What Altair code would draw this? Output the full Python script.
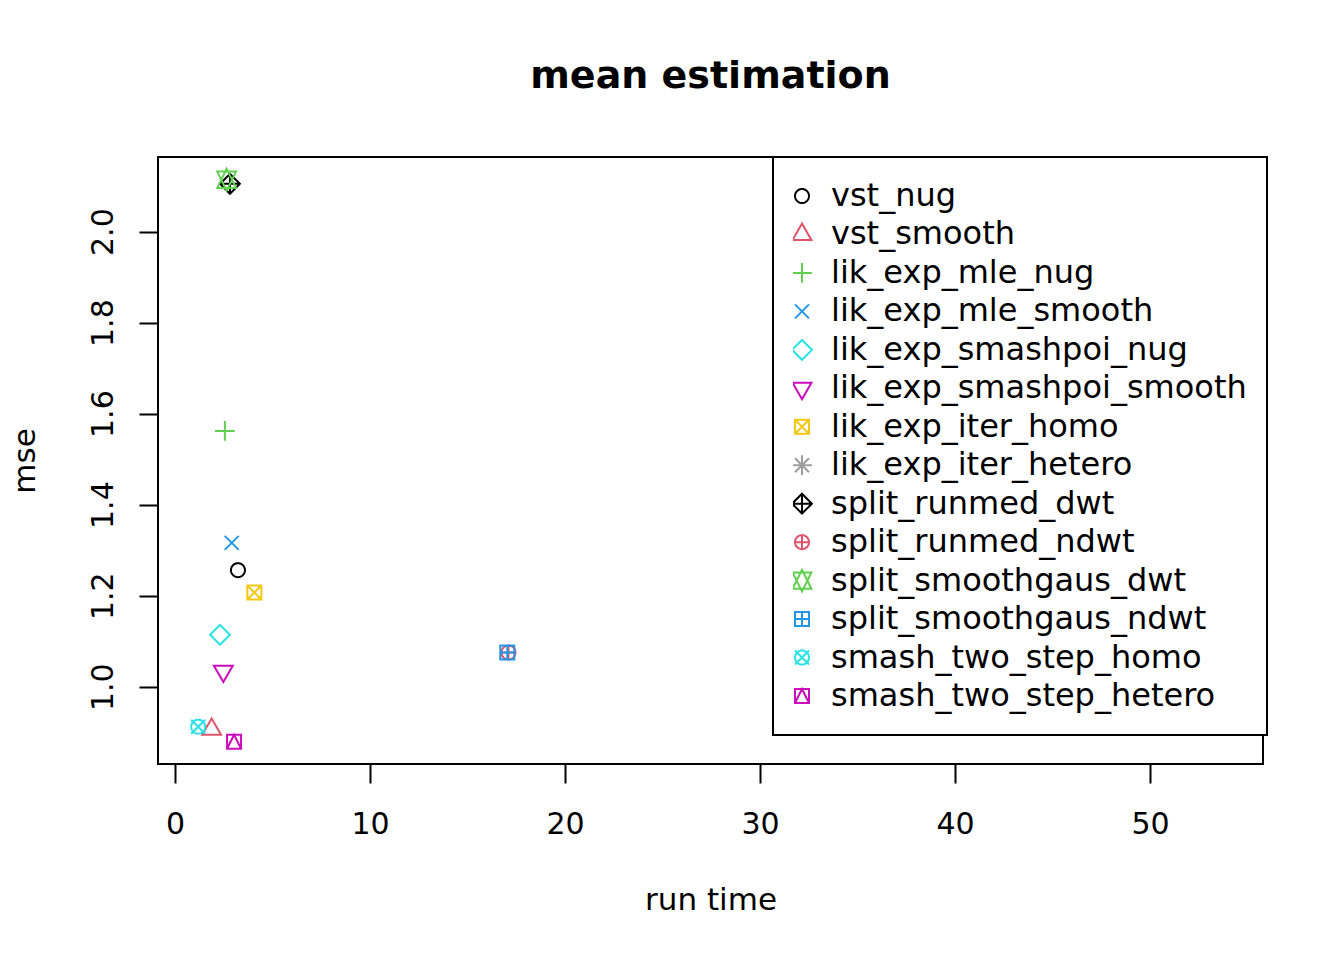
import math
import altair as alt
import pandas as pd

# ---- data ----
methods = [
    "vst_nug", "vst_smooth", "lik_exp_mle_nug", "lik_exp_mle_smooth",
    "lik_exp_smashpoi_nug", "lik_exp_smashpoi_smooth", "lik_exp_iter_homo",
    "lik_exp_iter_hetero", "split_runmed_dwt", "split_runmed_ndwt",
    "split_smoothgaus_dwt", "split_smoothgaus_ndwt", "smash_two_step_homo",
    "smash_two_step_hetero",
]
run_time = [3.23, 1.88, 2.56, 2.91, 2.31, 2.48, 4.07, 53.7, 2.82, 17.1, 2.65, 17.04, 1.19, 3.03]
mse = [1.256, 0.906, 1.562, 1.316, 1.114, 1.034, 1.207, 1.09, 2.105, 1.075, 2.114, 1.075, 0.912, 0.879]

colors = ["#000000", "#DF536B", "#61D04F", "#2297E6", "#28E2E5", "#CD0BBC", "#F5C710",
          "#9E9E9E", "#000000", "#DF536B", "#61D04F", "#2297E6", "#28E2E5", "#CD0BBC"]

x_ticks = [0, 10, 20, 30, 40, 50]
y_ticks = [1.0, 1.2, 1.4, 1.6, 1.8, 2.0]

# ---- R-style plotting symbols as SVG paths (unit = circle radius) ----
def circ(n=48):
    pts = [(math.cos(2 * math.pi * i / n), math.sin(2 * math.pi * i / n)) for i in range(n)]
    return "M" + " L".join(f"{a:.4f},{b:.4f}" for a, b in pts) + " Z"

S2 = 1.4142
T0, T1, T2 = 1.5551, 1.3468, 0.7776
YC11 = 0.5 * (T2 + T0)
SQ = "M-1,-1 L1,-1 L1,1 L-1,1 Z"
XL = "M-1,-1 L1,1 M-1,1 L1,-1"
PL1 = "M-1,0 L1,0 M0,-1 L0,1"
PL2 = f"M-{S2},0 L{S2},0 M0,-{S2} L0,{S2}"
DIA = f"M0,-{S2} L{S2},0 L0,{S2} L-{S2},0 Z"

shapes = [
    circ(),                                                  # 1
    f"M0,-{T0} L{T1},{T2} L-{T1},{T2} Z",                    # 2
    PL2,                                                     # 3
    XL,                                                      # 4
    DIA,                                                     # 5
    f"M0,{T0} L{T1},-{T2} L-{T1},-{T2} Z",                   # 6
    SQ + " " + XL,                                           # 7
    XL + " " + PL2,                                          # 8
    DIA + " " + PL2,                                         # 9
    circ() + " " + PL1,                                      # 10
    f"M0,-{T0} L{T1},{YC11} L-{T1},{YC11} Z M0,{T0} L{T1},-{YC11} L-{T1},-{YC11} Z",  # 11
    SQ + " " + PL1,                                          # 12
    circ() + " " + XL,                                       # 13
    SQ + " M-1,1 L0,-1 L1,1",                                # 14
]

df = pd.DataFrame({"method": methods, "run_time": run_time, "mse": mse})

FONT = "DejaVu Sans"
W, H = 1105, 607

legend = alt.Legend(title=None, symbolSize=196, symbolStrokeWidth=2)

chart = (
    alt.Chart(df, title=alt.TitleParams(
        "mean estimation", font=FONT, fontSize=38, fontWeight="bold",
        anchor="middle", baseline="alphabetic", offset=30, color="black"))
    .mark_point(filled=False, size=196, strokeWidth=2, opacity=1)
    .encode(
        x=alt.X("run_time:Q",
                scale=alt.Scale(domain=[-0.87, 55.79], nice=False, zero=False),
                axis=alt.Axis(title="run time", values=x_ticks, format="d",
                              grid=False, domain=False, tickSize=19, tickWidth=2,
                              tickColor="black", labelFont=FONT, labelFontSize=30,
                              labelColor="black", labelBaseline="alphabetic",
                              labelPadding=50, labelAlign="center",
                              titleFont=FONT, titleFontSize=31, titleFontWeight="normal",
                              titleColor="black", titleBaseline="alphabetic",
                              titleY=145, titleX=W / 2, titleAlign="center")),
        y=alt.Y("mse:Q",
                scale=alt.Scale(domain=[0.830, 2.164], nice=False, zero=False),
                axis=alt.Axis(title="mse", values=y_ticks, format=".1f",
                              grid=False, domain=False, tickSize=19, tickWidth=2,
                              tickColor="black", labelFont=FONT, labelFontSize=30,
                              labelColor="black", labelAngle=270, labelAlign="center",
                              labelBaseline="alphabetic", labelPadding=27,
                              titleFont=FONT, titleFontSize=31, titleFontWeight="normal",
                              titleColor="black", titleAngle=270, titleAlign="center",
                              titleBaseline="alphabetic", titleX=-124, titleY=H / 2)),
        color=alt.Color("method:N", scale=alt.Scale(domain=methods, range=colors),
                        legend=legend),
        shape=alt.Shape("method:N", scale=alt.Scale(domain=methods, range=shapes),
                        legend=legend),
    )
    .properties(width=W, height=H,
                autosize=alt.AutoSizeParams(type="none"),
                padding={"left": 150, "top": 149, "right": 73, "bottom": 188})
    .configure_view(stroke="black", strokeWidth=2)
    .configure_legend(orient="none", legendX=615, legendY=0, padding=20,
                      fillColor="white", strokeColor="black", strokeWidth=2,
                      clipHeight=38, rowPadding=0.46, labelOffset=13, symbolOffset=-7,
                      symbolSize=196, symbolStrokeWidth=2, labelFont=FONT,
                      labelFontSize=32, labelColor="black", labelLimit=0, zindex=1)
)

chart.save("out.html", embed_options={"renderer": "svg", "actions": False})
